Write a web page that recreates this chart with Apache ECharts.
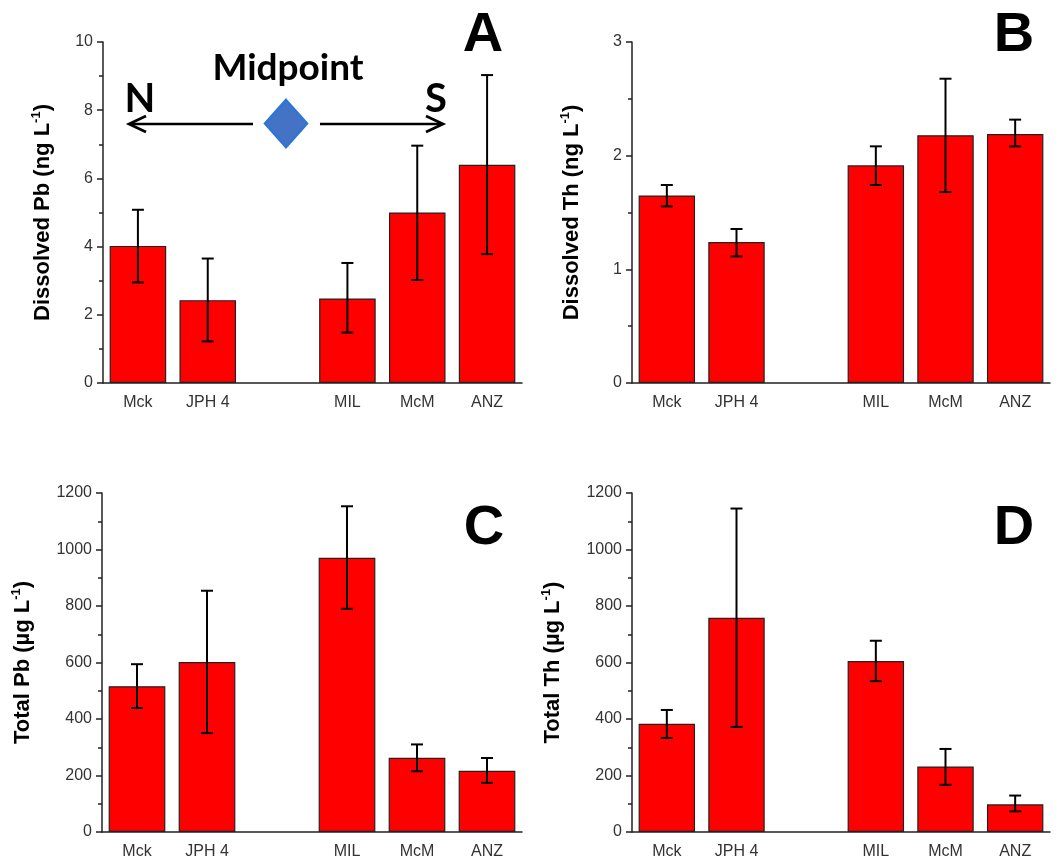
<!DOCTYPE html>
<html>
<head>
<meta charset="utf-8">
<script src="https://cdn.jsdelivr.net/npm/echarts@6/dist/echarts.min.js"></script>
<style>
  html, body { margin: 0; padding: 0; background: #fff; }
  #main { width: 1060px; height: 860px; }
</style>
</head>
<body>
<div id="main"></div>
<script>
// sites, with an empty slot for the gap between north and south groups
var sites = ['Mck', 'JPH 4', '', 'MIL', 'McM', 'ANZ'];

var dissPb   = [4.02, 2.43, null, 2.48, 5.00, 6.40];
var dissPbLo = [2.95, 1.22, null, 1.48, 3.02, 3.78];
var dissPbHi = [5.08, 3.65, null, 3.52, 6.96, 9.03];

var dissTh   = [1.65, 1.24, null, 1.915, 2.18, 2.19];
var dissThLo = [1.554, 1.114, null, 1.742, 1.68, 2.082];
var dissThHi = [1.742, 1.355, null, 2.082, 2.677, 2.317];

var totPb   = [516, 602, null, 971, 263, 217];
var totPbLo = [439, 350, null, 790, 215, 174];
var totPbHi = [594, 854, null, 1153, 310, 262];

var totTh   = [383, 758, null, 605, 232, 98];
var totThLo = [333, 372, null, 534, 167, 73];
var totThHi = [432, 1145, null, 677, 294, 129];

var chart = echarts.init(document.getElementById('main'));

var grids = [
  {left: 103, top: 42, width: 419, height: 341},
  {left: 632, top: 42, width: 418, height: 341},
  {left: 102, top: 493, width: 420, height: 342},
  {left: 632, top: 493, width: 418, height: 342}
];

var panels = [
  {vals: dissPb, lo: dissPbLo, hi: dissPbHi, max: 10, interval: 2, name: 'Dissolved Pb (ng L', gap: 47},
  {vals: dissTh, lo: dissThLo, hi: dissThHi, max: 3, interval: 1, name: 'Dissolved Th (ng L', gap: 47},
  {vals: totPb, lo: totPbLo, hi: totPbHi, max: 1200, interval: 200, name: 'Total Pb (\u00b5g L', gap: 66},
  {vals: totTh, lo: totThLo, hi: totThHi, max: 1200, interval: 200, name: 'Total Th (\u00b5g L', gap: 66}
];

var axisCol = '#222';
var labelFont = 'Liberation Sans, Arial, sans-serif';

function errRender(params, api) {
  var x = api.value(0);
  var top = api.coord([x, api.value(2)]);
  var bot = api.coord([x, api.value(1)]);
  var w = 6;
  var st = {stroke: '#000', lineWidth: 2};
  return {
    type: 'group',
    children: [
      {type: 'line', shape: {x1: top[0], y1: top[1], x2: bot[0], y2: bot[1]}, style: st},
      {type: 'line', shape: {x1: top[0] - w, y1: top[1], x2: top[0] + w, y2: top[1]}, style: st},
      {type: 'line', shape: {x1: bot[0] - w, y1: bot[1], x2: bot[0] + w, y2: bot[1]}, style: st}
    ]
  };
}

var xAxes = [], yAxes = [], series = [];
panels.forEach(function (p, i) {
  // labelled axis, ticks under the bars
  xAxes.push({
    type: 'category', gridIndex: i, data: sites,
    axisLine: {lineStyle: {color: axisCol, width: 1.5}},
    axisTick: {alignWithLabel: true, length: 6, lineStyle: {color: axisCol, width: 1.5}},
    axisLabel: {color: '#333', fontSize: 16, fontFamily: labelFont, margin: 12}
  });
  // second axis only for the short ticks between the bars
  xAxes.push({
    type: 'category', gridIndex: i, data: sites,
    axisLine: {show: false},
    axisTick: {length: 4, lineStyle: {color: axisCol, width: 1.5}},
    axisLabel: {show: false}
  });
  yAxes.push({
    type: 'value', gridIndex: i, min: 0, max: p.max, interval: p.interval,
    name: '{t|' + p.name + '}{s|-1}{t|)}',
    nameLocation: 'middle', nameGap: p.gap,
    nameTextStyle: {
      rich: {
        t: {fontSize: 22, fontWeight: 'bold', color: '#000', fontFamily: labelFont, lineHeight: 26},
        s: {fontSize: 13, fontWeight: 'bold', color: '#000', fontFamily: labelFont, verticalAlign: 'top', lineHeight: 26}
      }
    },
    axisLine: {show: true, lineStyle: {color: axisCol, width: 1.5}},
    axisTick: {show: true, length: 6, lineStyle: {color: axisCol, width: 1.5}},
    minorTick: {show: true, splitNumber: 2, length: 4, lineStyle: {color: axisCol, width: 1.5}},
    splitLine: {show: false},
    axisLabel: {color: '#333', fontSize: 16, fontFamily: labelFont, margin: 10,
      formatter: function (v) { return String(v); }}
  });
  series.push({
    type: 'bar', xAxisIndex: i * 2, yAxisIndex: i,
    data: p.vals, barWidth: '81%',
    itemStyle: {color: '#ff0000', borderColor: '#222', borderWidth: 1.2}
  });
  series.push({
    type: 'custom', xAxisIndex: i * 2, yAxisIndex: i,
    renderItem: errRender, z: 10,
    data: p.vals.map(function (v, k) { return v == null ? null : [k, p.lo[k], p.hi[k]]; })
  });
});

var boldFont = 'bold 56px "Liberation Sans", Arial, sans-serif';
var annFont = 'Lato, "Open Sans", sans-serif';

function letter(t, x, y) {
  return {type: 'text', x: x, y: y, style: {text: t, font: boldFont, fill: '#000', align: 'center', verticalAlign: 'middle'}};
}

chart.setOption({
  animation: false,
  grid: grids,
  xAxis: xAxes,
  yAxis: yAxes,
  series: series,
  graphic: [
    letter('A', 483, 36),
    letter('B', 1014, 36),
    letter('C', 484, 529),
    letter('D', 1014, 529),
    {type: 'text', x: 288, y: 68, style: {text: 'Midpoint', font: 'bold 37px ' + annFont, fill: '#000', align: 'center', verticalAlign: 'middle'}},
    {type: 'text', x: 140, y: 99, style: {text: 'N', font: 'bold 40px ' + annFont, fill: '#000', align: 'center', verticalAlign: 'middle'}},
    {type: 'text', x: 436, y: 99, style: {text: 'S', font: 'bold 40px ' + annFont, fill: '#000', align: 'center', verticalAlign: 'middle'}},
    {type: 'line', shape: {x1: 253, y1: 124, x2: 130, y2: 124}, style: {stroke: '#000', lineWidth: 2.7}},
    {type: 'polyline', shape: {points: [[146, 116], [129, 124], [146, 132]]}, style: {stroke: '#000', lineWidth: 2.7, fill: null}},
    {type: 'line', shape: {x1: 320, y1: 124, x2: 442, y2: 124}, style: {stroke: '#000', lineWidth: 2.7}},
    {type: 'polyline', shape: {points: [[426, 116], [443, 124], [426, 132]]}, style: {stroke: '#000', lineWidth: 2.7, fill: null}},
    {type: 'polygon', shape: {points: [[286, 100], [307, 123.5], [286, 147], [265, 123.5]]},
     style: {fill: '#4472c4', stroke: '#2e75d6', lineWidth: 2.5}}
  ]
});
</script>
</body>
</html>
